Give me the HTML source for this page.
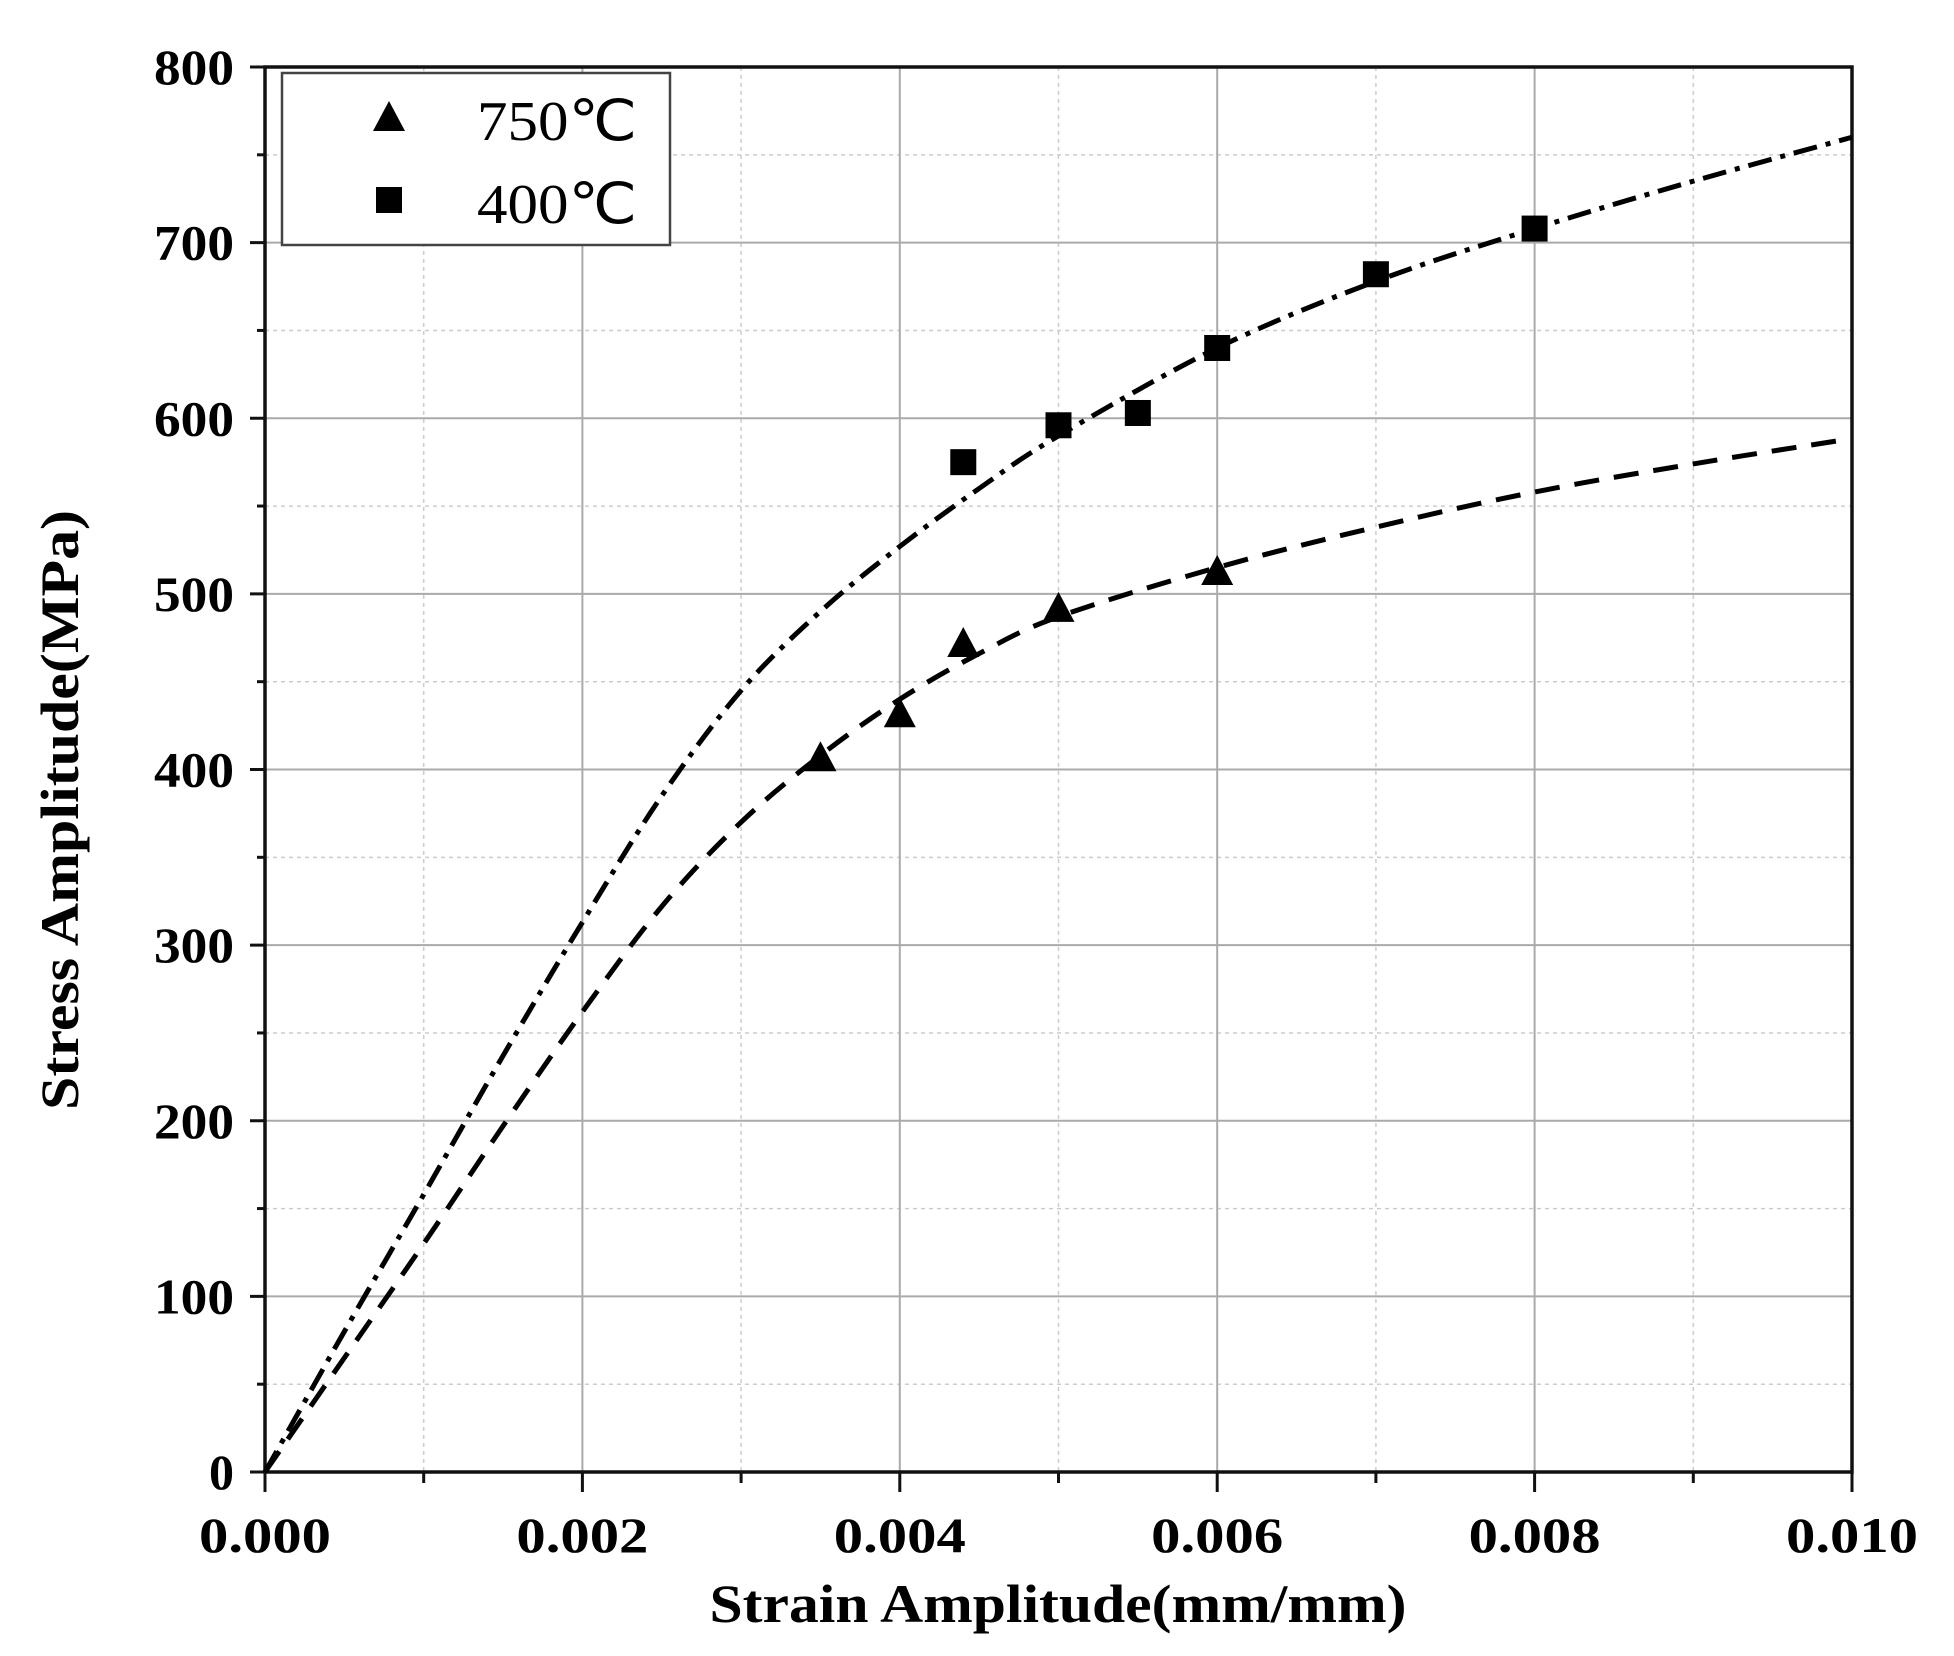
<!DOCTYPE html>
<html><head><meta charset="utf-8"><style>
html,body{margin:0;padding:0;background:#fff;}
svg{display:block;}
</style></head><body>
<svg id="c" width="1954" height="1656" xmlns="http://www.w3.org/2000/svg" font-family="Liberation Serif, serif"></svg>
<script>
const L=265,R=1852,T=67,B=1472;
const X=s=>L+s*158700, Y=v=>B-v*1.75625;
let o='';
for(let i=1;i<10;i+=2){const x=X(i*0.001);o+=`<line x1="${x}" y1="${T}" x2="${x}" y2="${B}" stroke="#ccc" stroke-width="1.5" stroke-dasharray="4,4"/>`;}
for(let v=50;v<800;v+=100){const y=Y(v);o+=`<line x1="${L}" y1="${y}" x2="${R}" y2="${y}" stroke="#ccc" stroke-width="1.5" stroke-dasharray="4,4"/>`;}
for(let i=2;i<10;i+=2){const x=X(i*0.001);o+=`<line x1="${x}" y1="${T}" x2="${x}" y2="${B}" stroke="#aaa" stroke-width="2"/>`;}
for(let v=100;v<800;v+=100){const y=Y(v);o+=`<line x1="${L}" y1="${y}" x2="${R}" y2="${y}" stroke="#aaa" stroke-width="2"/>`;}
o+=`<rect x="${L}" y="${T}" width="${R-L}" height="${B-T}" fill="none" stroke="#111" stroke-width="3.5"/>`;
for(let i=0;i<=10;i++){const x=X(i*0.001);const len=i%2==0?20:11;o+=`<line x1="${x}" y1="${B}" x2="${x}" y2="${B+len}" stroke="#111" stroke-width="3"/>`;}
for(let v=0;v<=800;v+=50){const y=Y(v);const len=v%100==0?15:8;o+=`<line x1="${L-len}" y1="${y}" x2="${L}" y2="${y}" stroke="#111" stroke-width="3"/>`;}
for(let i=0;i<=10;i+=2){const x=X(i*0.001);o+=`<text x="${x}" y="1552" font-size="50" font-weight="bold" text-anchor="middle" textLength="132" lengthAdjust="spacingAndGlyphs">${(i*0.001).toFixed(3)}</text>`;}
for(let v=0;v<=800;v+=100){const y=Y(v);const s=String(v);o+=`<text x="234" y="${y+17}" font-size="50" font-weight="bold" text-anchor="end" ${s.length==3?'textLength="80" lengthAdjust="spacingAndGlyphs"':''}>${s}</text>`;}
o+=`<text x="1058" y="1622" font-size="54" font-weight="bold" text-anchor="middle" textLength="697" lengthAdjust="spacingAndGlyphs">Strain Amplitude(mm/mm)</text>`;
o+=`<text transform="translate(78,810) rotate(-90)" font-size="54" font-weight="bold" text-anchor="middle" textLength="600" lengthAdjust="spacingAndGlyphs">Stress Amplitude(MPa)</text>`;
function path(pts){
  const P=pts.map(p=>[X(p[0]),Y(p[1])]);
  let d=`M${P[0][0]},${P[0][1]}`;
  for(let i=0;i<P.length-1;i++){
    const p0=P[i-1]||P[i],p1=P[i],p2=P[i+1],p3=P[i+2]||P[i+1];
    const c1=[p1[0]+(p2[0]-p0[0])/6,p1[1]+(p2[1]-p0[1])/6];
    const c2=[p2[0]-(p3[0]-p1[0])/6,p2[1]-(p3[1]-p1[1])/6];
    d+=` C${c1[0]},${c1[1]} ${c2[0]},${c2[1]} ${p2[0]},${p2[1]}`;
  }
  return d;
}
const c400=[[0,0],[0.0005,80],[0.001,158],[0.0015,237],[0.002,313],[0.0025,385],[0.003,445],[0.0035,490],[0.004,527],[0.0045,560],[0.005,590],[0.006,640],[0.007,678],[0.008,708],[0.009,735],[0.01,760]];
const c750=[[0,0],[0.0005,65],[0.001,130],[0.0015,197],[0.002,262],[0.0025,322],[0.003,370],[0.0035,408],[0.004,440],[0.0045,466],[0.005,487],[0.006,515],[0.007,538],[0.008,558],[0.009,574],[0.0099,587]];
o+=`<path d="${path(c400)}" fill="none" stroke="#000" stroke-width="5" stroke-dasharray="24,9,5,9"/>`;
o+=`<path d="${path(c750)}" fill="none" stroke="#000" stroke-width="5" stroke-dasharray="25,15"/>`;
const tri=(x,y)=>`<polygon points="${x-16},${y+14} ${x+16},${y+14} ${x},${y-16}" fill="#000"/>`;
const sq=(x,y)=>`<rect x="${x-13}" y="${y-13}" width="26" height="26" fill="#000"/>`;
[[0.0035,407],[0.004,432],[0.0044,472],[0.005,492],[0.006,513]].forEach(p=>o+=tri(X(p[0]),Y(p[1])));
[[0.0044,575],[0.005,596],[0.0055,603],[0.006,640],[0.007,682],[0.008,708]].forEach(p=>o+=sq(X(p[0]),Y(p[1])));
o+=`<rect x="282" y="73" width="388" height="172" fill="#fff" stroke="#444" stroke-width="2.5"/>`;
o+=tri(389,117)+sq(389,200);
o+=`<text x="477" y="140" font-size="56" textLength="160" lengthAdjust="spacingAndGlyphs">750℃</text>`;
o+=`<text x="477" y="223" font-size="56" textLength="160" lengthAdjust="spacingAndGlyphs">400℃</text>`;
document.getElementById('c').innerHTML=o;
</script>
</body></html>
